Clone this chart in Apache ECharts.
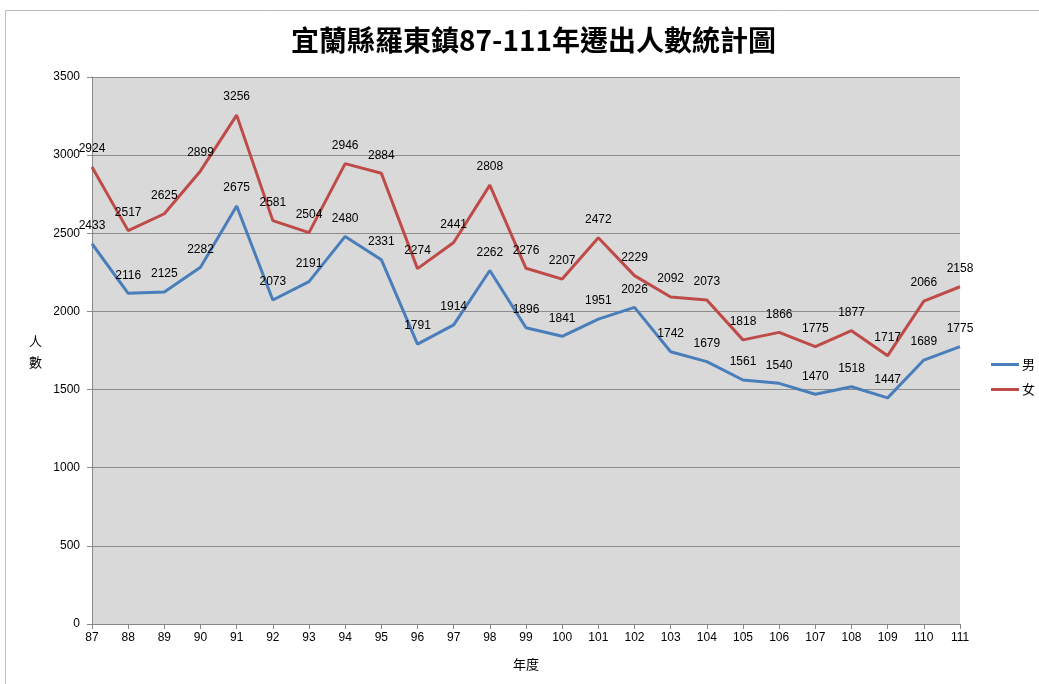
<!DOCTYPE html>
<html>
<head>
<meta charset="UTF-8">
<script src="https://cdn.jsdelivr.net/npm/echarts@6/dist/echarts.min.js"></script>
<style>
  html, body { margin:0; padding:0; background:#fff; }
  #main { width:1039px; height:684px; }
</style>
</head>
<body>
<div id="main"></div>
<script>
// 年度
var years = ['87','88','89','90','91','92','93','94','95','96','97','98','99','100','101','102','103','104','105','106','107','108','109','110','111'];
// 男
var maleVals = [2433,2116,2125,2282,2675,2073,2191,2480,2331,1791,1914,2262,1896,1841,1951,2026,1742,1679,1561,1540,1470,1518,1447,1689,1775];
// 女
var femaleVals = [2924,2517,2625,2899,3256,2581,2504,2946,2884,2274,2441,2808,2276,2207,2472,2229,2092,2073,1818,1866,1775,1877,1717,2066,2158];

var font = '"Liberation Sans", "Noto Sans CJK TC", sans-serif';
var cjk = '"Noto Sans CJK TC", sans-serif';
var chart = echarts.init(document.getElementById('main'));
chart.setOption({
    animation: false,
    textStyle: { fontFamily: font },
    title: {
        text: '宜蘭縣羅東鎮87-111年遷出人數統計圖',
        left: 286,
        top: 21,
        textStyle: { fontSize: 28, fontWeight: 'bold', color: '#000', fontFamily: cjk }
    },
    graphic: [{
        type: 'rect',
        shape: { x: 5.5, y: 10.5, width: 1060, height: 700 },
        style: { fill: 'none', stroke: '#bdbdbd', lineWidth: 1 },
        silent: true
    }, {
        type: 'text',
        left: 29,
        top: 331,
        style: { text: '人\n數', fontSize: 13, lineHeight: 21, fill: '#000', fontFamily: cjk }
    }],
    legend: {
        orient: 'vertical',
        left: 986,
        top: 353,
        itemWidth: 28,
        itemHeight: 3,
        itemGap: 12,
        icon: 'rect',
        textStyle: { fontSize: 13, color: '#000', fontFamily: cjk, padding: [0, 0, 0, -2] },
        data: ['男', '女']
    },
    grid: {
        left: 92, right: 79, top: 77, bottom: 60,
        show: true, backgroundColor: '#d9d9d9', borderWidth: 0
    },
    xAxis: {
        type: 'category',
        data: years,
        boundaryGap: false,
        name: '年度',
        nameLocation: 'middle',
        nameGap: 34,
        nameTextStyle: { fontSize: 13, color: '#000', fontFamily: cjk },
        axisLine: { lineStyle: { color: '#888', width: 1 } },
        axisTick: { show: true, alignWithLabel: true, lineStyle: { color: '#888' } },
        axisLabel: { color: '#000', fontSize: 12, margin: 8, interval: 0 },
        splitLine: { show: false }
    },
    yAxis: {
        type: 'value',
        min: 0, max: 3500, interval: 500,
        axisLine: { show: true, lineStyle: { color: '#888', width: 1 } },
        axisTick: { show: true, length: 5, lineStyle: { color: '#888' } },
        axisLabel: { color: '#000', fontSize: 12, margin: 12, formatter: function (v) { return String(v); } },
        splitLine: { show: true, lineStyle: { color: '#8c8c8c', width: 1 } }
    },
    series: [{
        name: '男',
        type: 'line',
        data: maleVals,
        symbol: 'circle',
        symbolSize: 0,
        showSymbol: true,
        lineStyle: { color: '#4a7ebb', width: 3 },
        itemStyle: { color: '#4a7ebb' },
        label: { show: true, position: 'top', distance: 12, color: '#000', fontSize: 12 }
    }, {
        name: '女',
        type: 'line',
        data: femaleVals,
        symbol: 'circle',
        symbolSize: 0,
        showSymbol: true,
        lineStyle: { color: '#be4b48', width: 3 },
        itemStyle: { color: '#be4b48' },
        label: { show: true, position: 'top', distance: 12, color: '#000', fontSize: 12 }
    }]
});
</script>
</body>
</html>
